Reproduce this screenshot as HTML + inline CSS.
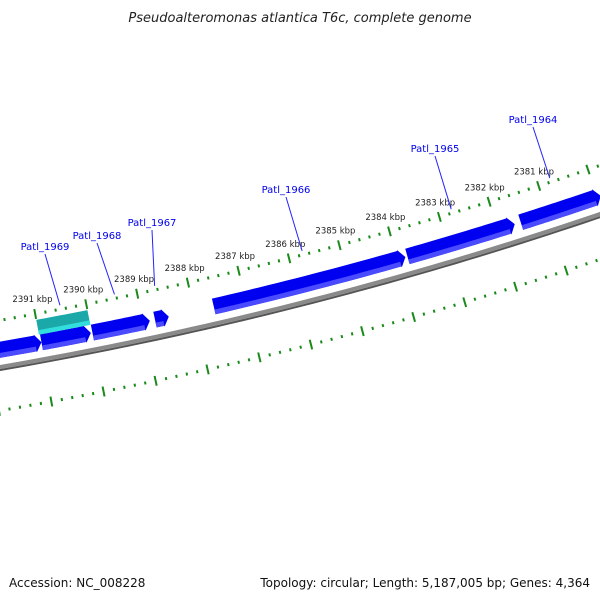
<!DOCTYPE html>
<html><head><meta charset="utf-8"><style>
body{margin:0;background:#fff}
svg{display:block;font-family:"DejaVu Sans","Liberation Sans",sans-serif}
</style></head><body>
<svg id="chart" width="600" height="600" viewBox="0 0 600 600">
<text x="300" y="22" text-anchor="middle" font-size="13" font-style="italic" fill="#222">Pseudoalteromonas atlantica T6c, complete genome</text>
<text x="9" y="587" font-size="12" fill="#111">Accession: NC_008228</text>
<text x="590" y="587" text-anchor="end" font-size="12" fill="#111">Topology: circular; Length: 5,187,005 bp; Genes: 4,364</text>
<g id="layer"></g>
</svg>
<script>
// data (kbp)
const tickStart = 2379.6, tickEnd = 2392.0;
const majorTicks = [2391,2390,2389,2388,2387,2386,2385,2384,2383,2382,2381];
const tickLabels = ["2391 kbp","2390 kbp","2389 kbp","2388 kbp","2387 kbp","2386 kbp","2385 kbp","2384 kbp","2383 kbp","2382 kbp","2381 kbp"];
const geneStarts = [2392.2, 2390.98, 2389.99, 2388.77, 2387.62, 2383.80, 2381.54];
const geneEnds   = [2390.98, 2390.02, 2388.87, 2388.50, 2383.84, 2381.66, 2379.93];
const otherStarts = [2391.0];
const otherEnds   = [2390.0];
const geneNames = ["Patl_1969","Patl_1968","Patl_1967","Patl_1966","Patl_1965","Patl_1964"];
const geneLabelPos = [2390.5, 2389.43, 2388.64, 2385.72, 2382.74, 2380.75];
// layout
const labelXY = [[45,250],[97,239],[152,226],[286,193],[435,152],[533,123]];

const NS="http://www.w3.org/2000/svg";
const layer=document.getElementById('layer');
// circle through 3 backbone points
const P=[[0,367],[300,303],[600,214]];
function circ(a,b,c){const d=2*(a[0]*(b[1]-c[1])+b[0]*(c[1]-a[1])+c[0]*(a[1]-b[1]));
const ux=((a[0]**2+a[1]**2)*(b[1]-c[1])+(b[0]**2+b[1]**2)*(c[1]-a[1])+(c[0]**2+c[1]**2)*(a[1]-b[1]))/d;
const uy=((a[0]**2+a[1]**2)*(c[0]-b[0])+(b[0]**2+b[1]**2)*(a[0]-c[0])+(c[0]**2+c[1]**2)*(b[0]-a[0]))/d;
return [ux,uy,Math.hypot(a[0]-ux,a[1]-uy)];}
const [cx,cy,R]=circ(...P);
// angle scale via ring points of 2391 (35,313) and 2381 (538,184)
const a1=Math.atan2(313-cy,35-cx), a2=Math.atan2(184-cy,538-cx);
function ang(k){return a1+(k-2391)*(a2-a1)/(2381-2391);}
function pt(k,d){const t=ang(k);return [cx+(R+d)*Math.cos(t),cy+(R+d)*Math.sin(t)];}
function mk(tag,attrs){const e=document.createElementNS(NS,tag);for(const k in attrs)e.setAttribute(k,attrs[k]);layer.appendChild(e);return e;}
function arcPts(k1,k2,d,n){const r=[];for(let i=0;i<=n;i++){r.push(pt(k1+(k2-k1)*i/n,d));}return r;}
function poly(pts){return pts.map(p=>p[0].toFixed(2)+','+p[1].toFixed(2)).join(' ');}

// backbone
let e=mk('polyline',{points:poly(arcPts(2393,2379,3,60)),fill:'none',stroke:'#555',"stroke-width":2});


e=mk('polyline',{points:poly(arcPts(2393,2379,0,60)),fill:'none',stroke:'#8a8a8a',"stroke-width":4});



// rulers
function ring(d,name){
  for(let k=Math.ceil(tickStart*5)/5;k<=tickEnd+1e-6;k+=0.2){
    const kk=Math.round(k*5)/5;const major=Math.abs(kk-Math.round(kk))<1e-6;
    const h=major?5:1.5;
    const a=pt(kk,d-h),b=pt(kk,d+h);
    const l=mk('line',{x1:a[0],y1:a[1],x2:b[0],y2:b[1],stroke:'#1a8a1a',"stroke-width":2});
    
    
  }
}
ring(-46,'inner-ruler');
ring(43,'outer-ruler');
majorTicks.forEach((k,i)=>{const p=pt(k,-61);
  const t=mk('text',{x:p[0],y:p[1]+3,"text-anchor":"middle","font-size":"8.5",fill:'#222'});
  t.textContent=tickLabels[i];
  
  });

// genes
function gene(s,en,d1,d2,fill,light,name,arrow){
  const dir=Math.sign(s-en);const al=arrow?0.12:0;const bodyEnd=en+dir*al;
  const top=arcPts(s,bodyEnd,d1,20),bot=arcPts(bodyEnd,s,d2,20);
  let pts=top.slice();
  if(arrow){pts.push(pt(bodyEnd,d1-1));pts.push(pt(en,(d1+d2)/2));pts.push(pt(bodyEnd,d2+1));}
  pts=pts.concat(bot);
  const g=mk('polygon',{points:poly(pts),fill:fill});
  
  
  const dm=d2-(d2-d1)*0.3;
  const lp=arcPts(s,bodyEnd,dm,20).concat(arcPts(bodyEnd,s,d2,20));
  const h=mk('polygon',{points:poly(lp),fill:light});
  
  
}
geneStarts.forEach((s,i)=>gene(s,geneEnds[i],-25,-9,'#0000f0','#4a4aff','gene-'+i,true));
otherStarts.forEach((s,i)=>gene(s,otherEnds[i],-40,-25,'#1aa8a8','#33dddd','other-feature-'+i,false));

// gene labels
geneNames.forEach((n,i)=>{const p=pt(geneLabelPos[i],-50);const [lx,ly]=labelXY[i];
  const l=mk('line',{x1:lx,y1:ly+4,x2:p[0],y2:p[1],stroke:'#2222ff',"stroke-width":1});
  
  
  const t=mk('text',{x:lx,y:ly,"text-anchor":"middle","font-size":"10",fill:'#0000ee'});
  t.textContent=n;
  
  });
</script>
</body></html>
